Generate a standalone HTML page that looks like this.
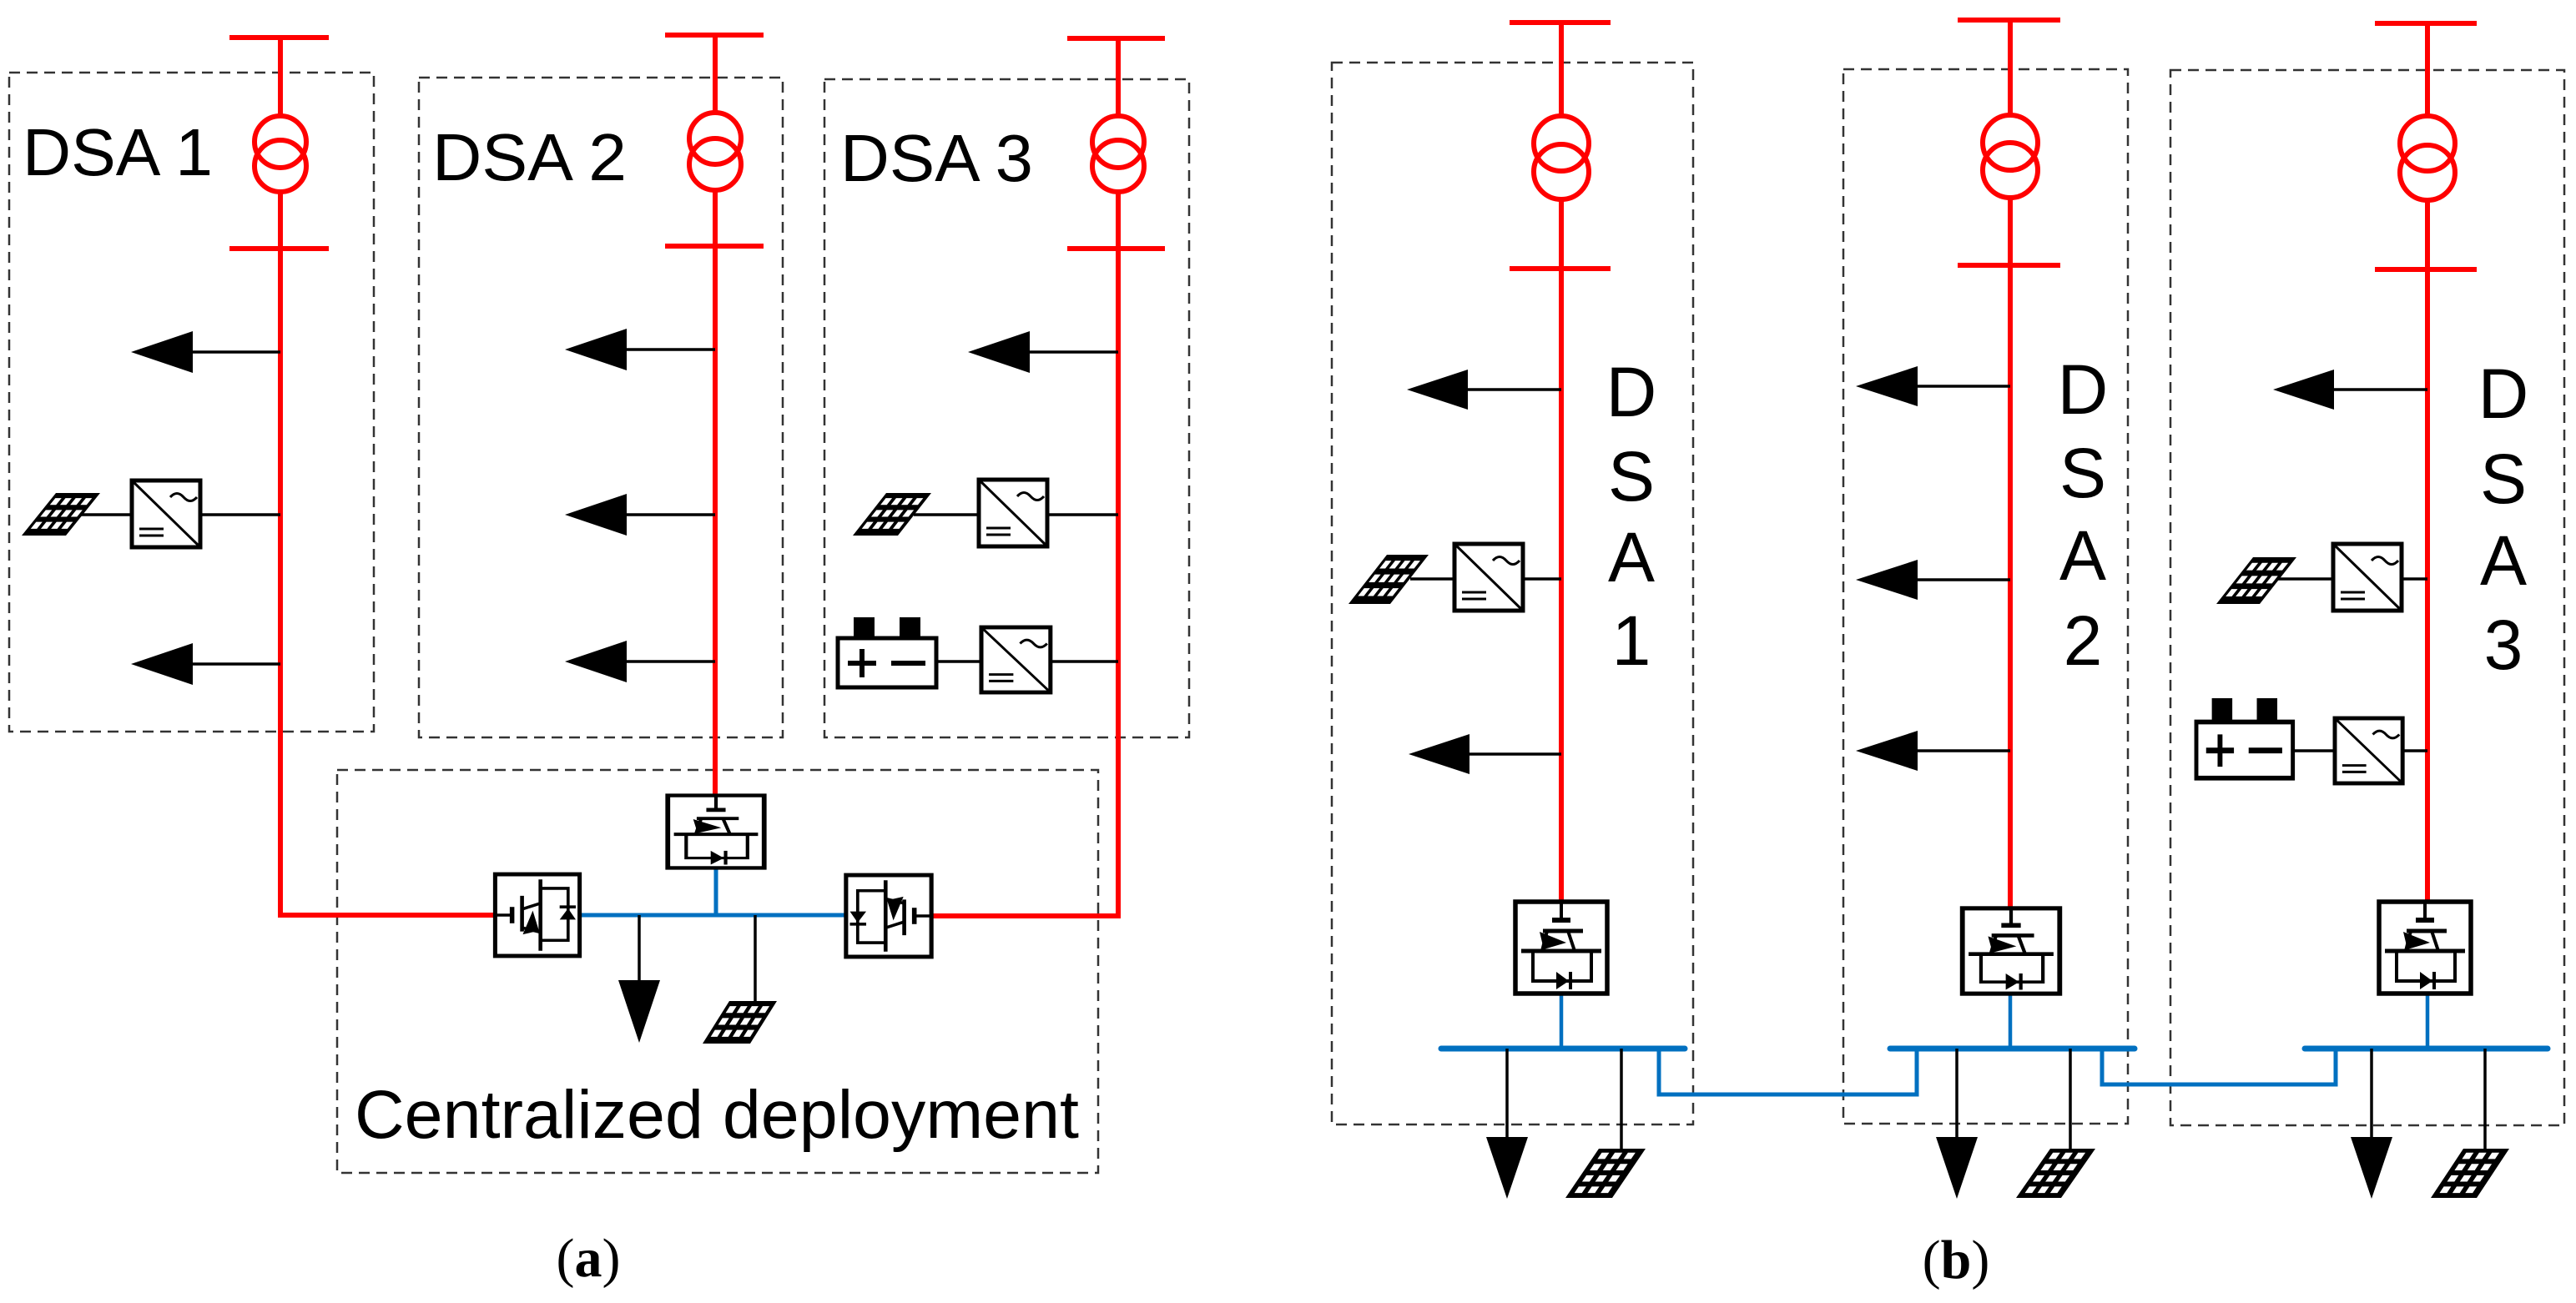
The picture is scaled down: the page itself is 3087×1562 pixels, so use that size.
<!DOCTYPE html>
<html><head><meta charset="utf-8"><style>
html,body{margin:0;padding:0;background:#fff;}
svg{display:block;}
text{font-family:"Liberation Sans",sans-serif;fill:#000;}
</style></head><body>
<svg width="3087" height="1562" viewBox="0 0 3087 1562" xmlns="http://www.w3.org/2000/svg">
<defs>
<g id="conv">
<rect x="-55" y="-55" width="110" height="110" fill="#fff" stroke="#000" stroke-width="5.5"/>
<g stroke="#000" fill="none" stroke-width="4">
<line x1="0" y1="-55" x2="0" y2="-33"/>
<line x1="-11" y1="-33" x2="11" y2="-33" stroke-width="6"/>
<line x1="-22" y1="-20" x2="26" y2="-20" stroke-width="5"/>
<line x1="-17" y1="-20" x2="-23" y2="4"/>
<line x1="8" y1="-20" x2="16" y2="4"/>
<line x1="-48" y1="4" x2="48" y2="4" stroke-width="5"/>
<polyline points="-34,4 -34,40 36,40 36,4"/>
<line x1="11" y1="29" x2="11" y2="50"/>
</g>
<polygon points="-26,-19 -21,2 6,-6" fill="#000"/>
<polygon points="-6,29 -6,50 9,40" fill="#000"/>
</g>
<g id="inv">
<rect x="0" y="0" width="82" height="80" fill="#fff" stroke="#000" stroke-width="5"/>
<line x1="0" y1="0" x2="82" y2="80" stroke="#000" stroke-width="3"/>
<path d="M46,20 q8,-9 16,0 t16,0" fill="none" stroke="#000" stroke-width="3"/>
<line x1="9" y1="58" x2="38" y2="58" stroke="#000" stroke-width="3"/>
<line x1="9" y1="66" x2="38" y2="66" stroke="#000" stroke-width="3"/>
</g>
<g id="bat">
<rect x="19" y="0" width="25" height="27" fill="#000"/>
<rect x="74" y="0" width="25" height="27" fill="#000"/>
<rect x="0" y="25" width="118" height="59" fill="#fff" stroke="#000" stroke-width="5"/>
<line x1="12" y1="55" x2="46" y2="55" stroke="#000" stroke-width="6"/>
<line x1="29" y1="38" x2="29" y2="72" stroke="#000" stroke-width="6"/>
<line x1="64" y1="55" x2="105" y2="55" stroke="#000" stroke-width="6"/>
</g>
<g id="pH">
<rect x="0" y="0" width="100" height="100" fill="#000"/>
<g fill="#fff">
<rect x="8" y="12" width="14" height="16"/><rect x="31" y="12" width="14" height="16"/><rect x="54" y="12" width="14" height="16"/><rect x="77" y="12" width="14" height="16"/>
<rect x="8" y="40" width="14" height="16"/><rect x="31" y="40" width="14" height="16"/><rect x="54" y="40" width="14" height="16"/><rect x="77" y="40" width="14" height="16"/>
<rect x="8" y="68" width="14" height="16"/><rect x="31" y="68" width="14" height="16"/><rect x="54" y="68" width="14" height="16"/><rect x="77" y="68" width="14" height="16"/>
</g>
</g>
<g id="pV">
<rect x="0" y="0" width="100" height="100" fill="#000"/>
<g fill="#fff">
<rect x="12" y="8" width="16" height="13"/><rect x="40" y="8" width="16" height="13"/><rect x="68" y="8" width="16" height="13"/>
<rect x="12" y="31" width="16" height="13"/><rect x="40" y="31" width="16" height="13"/><rect x="68" y="31" width="16" height="13"/>
<rect x="12" y="54" width="16" height="13"/><rect x="40" y="54" width="16" height="13"/><rect x="68" y="54" width="16" height="13"/>
<rect x="12" y="77" width="16" height="13"/><rect x="40" y="77" width="16" height="13"/><rect x="68" y="77" width="16" height="13"/>
</g>
</g>
</defs>

<g fill="none" stroke="#333" stroke-width="2.5" stroke-dasharray="13 8">
<rect x="11" y="87" width="437" height="790"/>
<rect x="502" y="93" width="436" height="791"/>
<rect x="988" y="95" width="437" height="789"/>
<rect x="404" y="923" width="912" height="483"/>
<rect x="1596" y="75" width="433" height="1273"/>
<rect x="2209" y="83" width="341" height="1264"/>
<rect x="2601" y="84" width="472" height="1265"/>
</g>

<g stroke="#ff0000" stroke-width="6" fill="none">
<line x1="275" y1="45" x2="394" y2="45"/><line x1="336" y1="45" x2="336" y2="139"/>
<circle cx="336" cy="170" r="31"/><circle cx="336" cy="199" r="31"/>
<line x1="275" y1="298" x2="394" y2="298"/>
<polyline points="336,230 336,1097 595,1097"/>

<line x1="797" y1="42" x2="915" y2="42"/><line x1="857" y1="42" x2="857" y2="135"/>
<circle cx="857" cy="166" r="31"/><circle cx="857" cy="197" r="31"/>
<line x1="797" y1="295" x2="915" y2="295"/>
<line x1="857" y1="228" x2="857" y2="956"/>

<line x1="1279" y1="46" x2="1396" y2="46"/><line x1="1340" y1="46" x2="1340" y2="139"/>
<circle cx="1340" cy="170" r="31"/><circle cx="1340" cy="199" r="31"/>
<line x1="1279" y1="298" x2="1396" y2="298"/>
<polyline points="1340,230 1340,1098 1114,1098"/>

<line x1="1809" y1="27" x2="1930" y2="27"/><line x1="1871" y1="27" x2="1871" y2="139"/>
<circle cx="1871" cy="172" r="33"/><circle cx="1871" cy="206" r="33"/>
<line x1="1809" y1="322" x2="1930" y2="322"/>
<line x1="1871" y1="239" x2="1871" y2="1082"/>

<line x1="2346" y1="24" x2="2469" y2="24"/><line x1="2409" y1="24" x2="2409" y2="138"/>
<circle cx="2409" cy="171" r="33"/><circle cx="2409" cy="204" r="33"/>
<line x1="2346" y1="318" x2="2469" y2="318"/>
<line x1="2409" y1="237" x2="2409" y2="1091"/>

<line x1="2846" y1="28" x2="2968" y2="28"/><line x1="2909" y1="28" x2="2909" y2="139"/>
<circle cx="2909" cy="172" r="33"/><circle cx="2909" cy="207" r="33"/>
<line x1="2846" y1="323" x2="2968" y2="323"/>
<line x1="2909" y1="240" x2="2909" y2="1082"/>
</g>

<g stroke="#0070c0" stroke-width="5" fill="none">
<line x1="693" y1="1097" x2="1016" y2="1097"/>
<line x1="858" y1="1041" x2="858" y2="1097"/>
</g>
<g stroke="#0070c0" fill="none">
<line x1="1871" y1="1191" x2="1871" y2="1257" stroke-width="4.5"/>
<line x1="2409" y1="1191" x2="2409" y2="1257" stroke-width="4.5"/>
<line x1="2909" y1="1191" x2="2909" y2="1257" stroke-width="4.5"/>
<line x1="1727" y1="1257" x2="2019" y2="1257" stroke-width="7" stroke-linecap="round"/>
<line x1="2265" y1="1257" x2="2558" y2="1257" stroke-width="7" stroke-linecap="round"/>
<line x1="2762" y1="1257" x2="3053" y2="1257" stroke-width="7" stroke-linecap="round"/>
<polyline points="1988,1257 1988,1312 2297,1312 2297,1257" stroke-width="5"/>
<polyline points="2519,1257 2519,1300 2799,1300 2799,1257" stroke-width="5"/>
</g>

<g stroke="#000" stroke-width="3.5" fill="none">
<line x1="231" y1="422" x2="336" y2="422"/>
<line x1="231" y1="796" x2="336" y2="796"/>
<line x1="95" y1="617" x2="158" y2="617"/><line x1="240" y1="617" x2="336" y2="617"/>
<line x1="751" y1="419" x2="857" y2="419"/>
<line x1="751" y1="617" x2="857" y2="617"/>
<line x1="751" y1="793" x2="857" y2="793"/>
<line x1="1234" y1="422" x2="1340" y2="422"/>
<line x1="1095" y1="617" x2="1173" y2="617"/><line x1="1256" y1="617" x2="1340" y2="617"/>
<line x1="1122" y1="793" x2="1176" y2="793"/><line x1="1259" y1="793" x2="1340" y2="793"/>
<line x1="766" y1="1097" x2="766" y2="1176"/>
<line x1="905" y1="1097" x2="905" y2="1202"/>

<line x1="1759" y1="467" x2="1871" y2="467"/>
<line x1="1759" y1="904" x2="1871" y2="904"/>
<line x1="1690" y1="694" x2="1743" y2="694"/><line x1="1825" y1="694" x2="1871" y2="694"/>
<line x1="2298" y1="463" x2="2409" y2="463"/>
<line x1="2298" y1="695" x2="2409" y2="695"/>
<line x1="2298" y1="900" x2="2409" y2="900"/>
<line x1="2797" y1="467" x2="2909" y2="467"/>
<line x1="2730" y1="694" x2="2796" y2="694"/><line x1="2877" y1="694" x2="2909" y2="694"/>
<line x1="2748" y1="900" x2="2798" y2="900"/><line x1="2879" y1="900" x2="2909" y2="900"/>

<line x1="1806" y1="1257" x2="1806" y2="1366"/><line x1="1943" y1="1257" x2="1943" y2="1378"/>
<line x1="2345" y1="1257" x2="2345" y2="1366"/><line x1="2481" y1="1257" x2="2481" y2="1378"/>
<line x1="2842" y1="1257" x2="2842" y2="1366"/><line x1="2978" y1="1257" x2="2978" y2="1378"/>
</g>

<g fill="#000">
<polygon points="157,422 231,397 231,447"/>
<polygon points="157,796 231,771 231,821"/>
<polygon points="677,419 751,394 751,444"/>
<polygon points="677,617 751,592 751,642"/>
<polygon points="677,793 751,768 751,818"/>
<polygon points="1160,422 1234,397 1234,447"/>
<polygon points="741,1175 791,1175 766,1250"/>
<polygon points="1686,467 1759,443 1759,491"/>
<polygon points="1688,904 1761,880 1761,928"/>
<polygon points="2224,463 2298,439 2298,487"/>
<polygon points="2224,695 2298,671 2298,719"/>
<polygon points="2224,900 2298,876 2298,924"/>
<polygon points="2724,467 2797,443 2797,491"/>
<polygon points="1781,1363 1831,1363 1806,1437"/>
<polygon points="2320,1363 2370,1363 2345,1437"/>
<polygon points="2817,1363 2867,1363 2842,1437"/>
</g>

<use href="#pH" transform="matrix(0.53 0 -0.41 0.51 67 591)"/>
<use href="#pH" transform="matrix(0.54 0 -0.40 0.51 1062 591)"/>
<use href="#pH" transform="matrix(0.57 0 -0.32 0.51 874 1200)"/>
<use href="#pH" transform="matrix(0.50 0 -0.46 0.59 1662 665)"/>
<use href="#pH" transform="matrix(0.52 0 -0.44 0.56 2700 668)"/>
<use href="#pV" transform="matrix(0.56 0 -0.40 0.59 1916 1377)"/>
<use href="#pV" transform="matrix(0.54 0 -0.41 0.59 2457 1377)"/>
<use href="#pV" transform="matrix(0.55 0 -0.39 0.59 2952 1377)"/>

<use href="#inv" transform="translate(158 576)"/>
<use href="#inv" transform="translate(1173 575)"/>
<use href="#inv" transform="translate(1176 752) scale(1.01 0.975)"/>
<use href="#inv" transform="translate(1743 652)"/>
<use href="#inv" transform="translate(2796 652)"/>
<use href="#inv" transform="translate(2798 861) scale(0.99 0.975)"/>

<use href="#bat" transform="translate(1004 740)"/>
<use href="#bat" transform="translate(2632 837) scale(0.98 1.14)"/>

<use href="#conv" transform="translate(858 997) scale(1.05 0.79)"/>
<use href="#conv" transform="translate(644 1097) scale(0.92 0.89) rotate(-90)"/>
<use href="#conv" transform="translate(1065 1098) scale(0.93 0.89) rotate(90)"/>
<use href="#conv" transform="translate(1871 1136)"/>
<use href="#conv" transform="translate(2410 1140) scale(1.06 0.93)"/>
<use href="#conv" transform="translate(2906 1136)"/>

<text x="27" y="210" font-size="80" textLength="228" lengthAdjust="spacingAndGlyphs">DSA 1</text>
<text x="518" y="216" font-size="80" textLength="233" lengthAdjust="spacingAndGlyphs">DSA 2</text>
<text x="1007" y="217" font-size="80" textLength="231" lengthAdjust="spacingAndGlyphs">DSA 3</text>
<text x="425" y="1364" font-size="82" textLength="868" lengthAdjust="spacingAndGlyphs">Centralized deployment</text>

<g font-size="84" text-anchor="middle">
<text x="1955" y="499">D</text><text x="1955" y="600">S</text><text x="1955" y="697">A</text><text x="1955" y="797">1</text>
<text x="2496" y="496">D</text><text x="2496" y="596">S</text><text x="2496" y="695">A</text><text x="2496" y="797">2</text>
<text x="3000" y="501">D</text><text x="3000" y="603">S</text><text x="3000" y="701">A</text><text x="3000" y="802">3</text>
</g>

<text x="705" y="1530" font-size="66" text-anchor="middle" style="font-family:'Liberation Serif',serif">(<tspan font-weight="bold">a</tspan>)</text>
<text x="2344" y="1532" font-size="66" text-anchor="middle" style="font-family:'Liberation Serif',serif">(<tspan font-weight="bold">b</tspan>)</text>
</svg>
</body></html>
